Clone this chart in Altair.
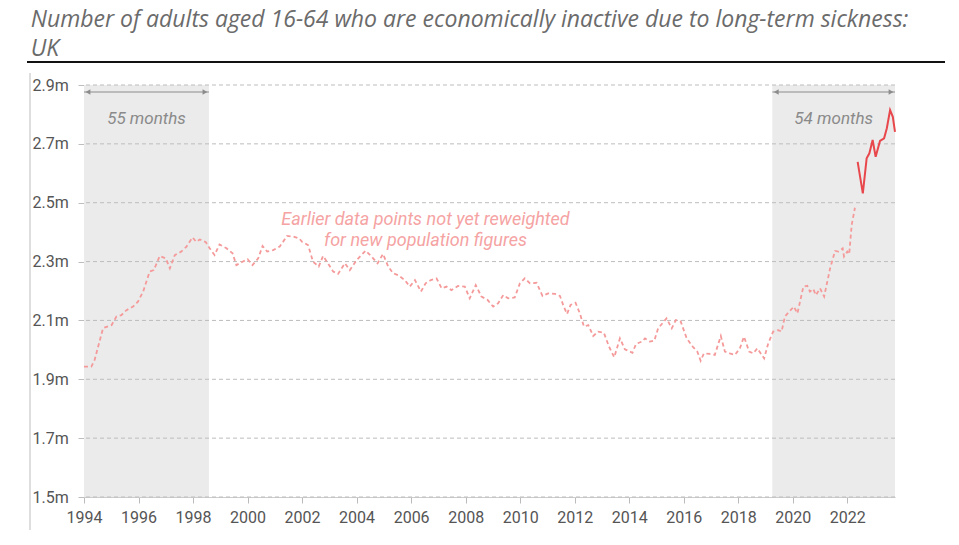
import altair as alt
import pandas as pd

# ---- text ----
TITLE_1 = "Number of adults aged 16-64 who are economically inactive due to long-term sickness:"
TITLE_2 = "UK"
NOTE_1 = "Earlier data points not yet reweighted"
NOTE_2 = "for new population figures"

# ---- series: earlier data (not reweighted), dashed ----
old_years = [
    1994.00, 1994.27, 1994.39, 1994.70, 1995.01, 1995.19, 1995.37, 1995.56, 1995.80, 1995.98,
    1996.17, 1996.41, 1996.56, 1996.78, 1997.00, 1997.15, 1997.33, 1997.57, 1997.76, 1997.98,
    1998.12, 1998.25, 1998.47, 1998.61, 1998.79, 1998.97, 1999.23, 1999.45, 1999.59, 1999.83,
    2000.00, 2000.18, 2000.39, 2000.55, 2000.72, 2000.94, 2001.18, 2001.45, 2001.67, 2001.89,
    2002.00, 2002.22, 2002.40, 2002.61, 2002.77, 2002.95, 2003.14, 2003.32, 2003.57, 2003.75,
    2004.00, 2004.33, 2004.55, 2004.77, 2004.97, 2005.16, 2005.34, 2005.52, 2005.77, 2005.95,
    2006.14, 2006.36, 2006.53, 2006.72, 2006.93, 2007.12, 2007.30, 2007.48, 2007.72, 2007.97,
    2008.15, 2008.37, 2008.58, 2008.80, 2009.01, 2009.19, 2009.38, 2009.56, 2009.80, 2009.99,
    2010.17, 2010.36, 2010.60, 2010.82, 2011.03, 2011.28, 2011.46, 2011.60, 2011.72, 2011.85,
    2012.03, 2012.19, 2012.34, 2012.50, 2012.68, 2012.86, 2013.07, 2013.26, 2013.45, 2013.66,
    2013.84, 2014.12, 2014.25, 2014.46, 2014.58, 2014.76, 2014.92, 2015.06, 2015.37, 2015.56,
    2015.71, 2015.89, 2016.11, 2016.33, 2016.50, 2016.62, 2016.74, 2016.96, 2017.14, 2017.36,
    2017.51, 2017.69, 2017.88, 2018.06, 2018.21, 2018.40, 2018.55, 2018.70, 2018.86, 2018.95,
    2019.10, 2019.28, 2019.47, 2019.59, 2019.71, 2019.92, 2020.04, 2020.17, 2020.39, 2020.53,
    2020.63, 2020.75, 2020.85, 2021.00, 2021.15, 2021.37, 2021.55, 2021.67, 2021.83, 2021.88,
    2022.00, 2022.07, 2022.16, 2022.28,
]
old_values = [
    1.943, 1.943, 1.966, 2.074, 2.084, 2.113, 2.118, 2.135, 2.147, 2.164,
    2.198, 2.266, 2.271, 2.319, 2.311, 2.277, 2.322, 2.334, 2.351, 2.382,
    2.367, 2.375, 2.366, 2.345, 2.322, 2.358, 2.345, 2.328, 2.288, 2.300,
    2.308, 2.288, 2.311, 2.353, 2.334, 2.339, 2.351, 2.387, 2.385, 2.379,
    2.367, 2.356, 2.300, 2.283, 2.319, 2.294, 2.266, 2.258, 2.294, 2.271,
    2.305, 2.337, 2.317, 2.294, 2.326, 2.283, 2.260, 2.254, 2.237, 2.215,
    2.237, 2.198, 2.226, 2.237, 2.243, 2.209, 2.215, 2.203, 2.217, 2.215,
    2.175, 2.220, 2.181, 2.170, 2.147, 2.158, 2.186, 2.175, 2.178, 2.226,
    2.243, 2.226, 2.228, 2.183, 2.192, 2.190, 2.183, 2.147, 2.122, 2.153,
    2.160, 2.124, 2.079, 2.084, 2.047, 2.062, 2.058, 2.011, 1.975, 2.039,
    2.002, 1.990, 2.020, 2.028, 2.039, 2.028, 2.031, 2.073, 2.107, 2.073,
    2.101, 2.096, 2.039, 2.011, 1.994, 1.963, 1.988, 1.986, 1.983, 2.047,
    1.994, 1.988, 1.983, 2.005, 2.045, 1.994, 1.988, 2.005, 1.983, 1.971,
    2.022, 2.062, 2.067, 2.062, 2.113, 2.135, 2.147, 2.124, 2.215, 2.218,
    2.198, 2.207, 2.186, 2.209, 2.181, 2.277, 2.336, 2.334, 2.345, 2.317,
    2.334, 2.325, 2.424, 2.483,
]

# ---- series: reweighted data, solid ----
new_years = [2022.38, 2022.57, 2022.71, 2022.81, 2022.93, 2023.04, 2023.20, 2023.35, 2023.45, 2023.57, 2023.67, 2023.75]
new_values = [2.639, 2.532, 2.651, 2.668, 2.713, 2.656, 2.710, 2.719, 2.753, 2.815, 2.792, 2.741]

# ---- shaded periods ----
region_starts = [1994.0, 2019.25]
region_ends = [1998.583, 2023.75]
region_labels = ["55 months", "54 months"]

# ---- ticks ----
x_ticks = [1994, 1996, 1998, 2000, 2002, 2004, 2006, 2008, 2010, 2012, 2014, 2016, 2018, 2020, 2022]
y_ticks = [1.5, 1.7, 1.9, 2.1, 2.3, 2.5, 2.7, 2.9]

old_df = pd.DataFrame({"year": old_years, "value": old_values})
new_df = pd.DataFrame({"year": new_years, "value": new_values})
reg_df = pd.DataFrame({"start": region_starts, "end": region_ends, "label": region_labels})
reg_df["mid"] = (reg_df["start"] + reg_df["end"]) / 2
grid_df = pd.DataFrame({"v": y_ticks})

W, H = 811, 412
FONT = "Roboto"
TFONT = "Open Sans"

xscale = alt.Scale(domain=[1994, 2023.75], nice=False, zero=False)
yscale = alt.Scale(domain=[1.5, 2.9], nice=False, zero=False)

xaxis = alt.Axis(values=x_ticks, format="d", grid=False, title=None,
                 domainColor="#cccccc", tickColor="#bbbbbb", tickSize=6,
                 labelFont=FONT, labelFontSize=16, labelColor="#555555",
                 labelPadding=6, labelFlush=False)
yaxis = alt.Axis(values=y_ticks, labelExpr="format(datum.value, '.1f') + 'm'",
                 grid=False, title=None, domainColor="#cccccc",
                 tickColor="#bdbdbd", tickSize=6, labelAlign="left",
                 labelBaseline="middle", labelPadding=46,
                 labelFont=FONT, labelFontSize=16, labelColor="#555555")

X = lambda f: alt.X(f, scale=xscale, axis=xaxis)

shade = alt.Chart(reg_df).mark_rect(color="#ebebeb").encode(
    x=X("start:Q"), x2="end:Q", y=alt.value(0), y2=alt.value(H))

grid = alt.Chart(grid_df).mark_rule(color="#bdbdbd", strokeDash=[4, 3], strokeWidth=1).encode(
    y=alt.Y("v:Q", scale=yscale, axis=yaxis))

arrow = alt.Chart(reg_df).mark_rule(color="#8c8c8c", strokeWidth=1.2).encode(
    x=X("start:Q"), x2="end:Q", y=alt.value(7))
head_l = alt.Chart(reg_df).mark_point(shape="triangle-left", filled=True, size=30,
                                      color="#8c8c8c", opacity=1, xOffset=4).encode(
    x=X("start:Q"), y=alt.value(7))
head_r = alt.Chart(reg_df).mark_point(shape="triangle-right", filled=True, size=30,
                                      color="#8c8c8c", opacity=1, xOffset=-4).encode(
    x=X("end:Q"), y=alt.value(7))
months = alt.Chart(reg_df).mark_text(font=FONT, fontStyle="italic", fontSize=17,
                                     color="#8a8a8a", baseline="alphabetic").encode(
    x=X("mid:Q"), y=alt.value(38.5), text="label:N")

old_line = alt.Chart(old_df).mark_line(color="#f59a9a", strokeDash=[4, 3], strokeWidth=1.8).encode(
    x=X("year:Q"), y=alt.Y("value:Q", scale=yscale, axis=yaxis))
new_line = alt.Chart(new_df).mark_line(color="#e8474c", strokeWidth=2).encode(
    x=X("year:Q"), y=alt.Y("value:Q", scale=yscale, axis=yaxis))


def label(txt, x, y, align="left", **kw):
    return alt.Chart(pd.DataFrame({"t": [txt]})).mark_text(
        align=align, baseline="alphabetic", **kw).encode(
        x=alt.value(x), y=alt.value(y), text="t:N")


note1 = label(NOTE_1, 341.5, 140, align="center", font=FONT, fontStyle="italic",
              fontSize=18, color="#f5a3a3")
note2 = label(NOTE_2, 341.5, 161, align="center", font=FONT, fontStyle="italic",
              fontSize=18, color="#f5a3a3")
title1 = label(TITLE_1, -53.3, -58, font=TFONT, fontStyle="italic", fontSize=23,
               color="#6b6b6b")
title2 = label(TITLE_2, -53.3, -29, font=TFONT, fontStyle="italic", fontSize=23,
               color="#6b6b6b")

black_rule = alt.Chart(pd.DataFrame({"a": [0]})).mark_rule(color="#111111", strokeWidth=2).encode(
    x=alt.value(-57), x2=alt.value(861), y=alt.value(-23))
left_rule = alt.Chart(pd.DataFrame({"a": [0]})).mark_rule(color="#d3d3d3", strokeWidth=1.5).encode(
    x=alt.value(-54), y=alt.value(-12), y2=alt.value(445))

chart = alt.layer(
    shade, grid, arrow, head_l, head_r, months, old_line, new_line,
    note1, note2, title1, title2, black_rule, left_rule,
).properties(
    width=W, height=H,
    padding={"left": 76, "top": 77, "right": 50, "bottom": 34},
    autosize=alt.AutoSizeParams(type="none"),
    background="white",
).configure_view(stroke=None)

chart.save("out.html", embed_options={"renderer": "svg", "actions": False})
